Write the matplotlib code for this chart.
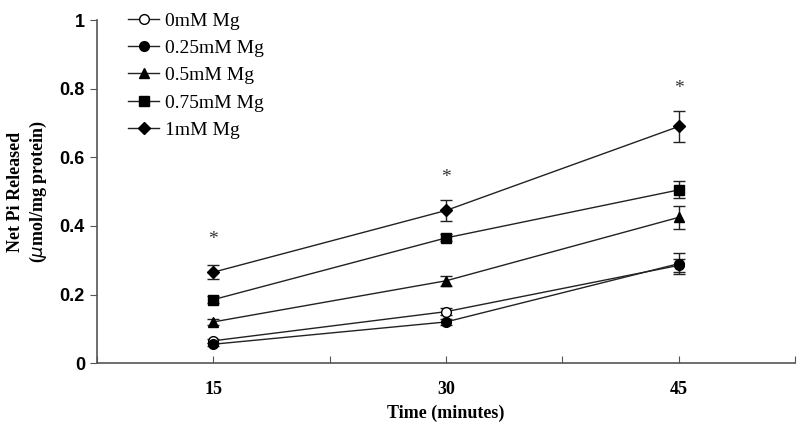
import numpy as np
import matplotlib.pyplot as plt

# time points (minutes)
times = [15, 30, 45]

labels = ["0mM Mg", "0.25mM Mg", "0.5mM Mg", "0.75mM Mg", "1mM Mg"]
mg0 = [0.065, 0.15, 0.285]
mg025 = [0.055, 0.12, 0.29]
mg05 = [0.12, 0.24, 0.425]
mg075 = [0.185, 0.365, 0.505]
mg1 = [0.265, 0.445, 0.69]

err0 = [0.005, 0.01, 0.02]
err025 = [0.005, 0.01, 0.03]
err05 = [0.01, 0.015, 0.033]
err075 = [0.01, 0.01, 0.025]
err1 = [0.02, 0.03, 0.045]

star_y = [0.36, 0.54, 0.80]

serif = "Liberation Serif"

fig = plt.figure(figsize=(8, 4.38), dpi=100)
ax = fig.add_axes([0.121, 0.171, 0.873, 0.783])

series = [
    (mg0, err0, "o", "white"),
    (mg025, err025, "o", "black"),
    (mg05, err05, "^", "black"),
    (mg075, err075, "s", "black"),
    (mg1, err1, "D", "black"),
]
handles = []
for (vals, errs, mk, fc), lab in zip(series, labels):
    ms = 7 if mk != "D" else 6
    c = ax.errorbar(times, vals, yerr=errs, fmt="-", color="#222222", lw=1,
                    marker=mk, mfc=fc, mec="black", ms=ms, capsize=4,
                    elinewidth=1, label=lab)
    handles.append(c[0])

for t, y in zip(times, star_y):
    ax.text(t, y, "*", ha="center", va="center", fontsize=14,
            family=serif, color="#333333")

ax.set_xlim(7.5, 52.5)
ax.set_ylim(0, 1)
ax.set_xticks(np.arange(7.5, 52.6, 7.5))
ax.set_xticklabels(["", "15", "", "30", "", "45", ""])
ax.set_yticks([0, 0.2, 0.4, 0.6, 0.8, 1.0])
ax.set_yticklabels(["0", "0.2", "0.4", "0.6", "0.8", "1"])
for lbl in ax.get_xticklabels():
    lbl.set_family(serif)
    lbl.set_fontweight("bold")
    lbl.set_fontsize(13)
for lbl in ax.get_yticklabels():
    lbl.set_family("Liberation Sans")
    lbl.set_fontweight("bold")
    lbl.set_fontsize(13)
ax.tick_params(axis="x", direction="in", length=5, pad=13, color="#555555")
ax.tick_params(axis="y", direction="out", length=5, color="#555555")

for s in ["top", "right"]:
    ax.spines[s].set_visible(False)
for s in ["left", "bottom"]:
    ax.spines[s].set_color("#555555")
    ax.spines[s].set_linewidth(1.2)

ax.set_xlabel("Time (minutes)", family=serif, fontweight="bold", fontsize=13, labelpad=5)
ax.set_ylabel("Net Pi Released\n($\\mu$mol/mg protein)", family=serif,
              fontweight="bold", fontsize=13, labelpad=8)

ax.legend(handles=handles, labels=labels, loc="upper left",
          bbox_to_anchor=(0.02, 1.075), frameon=False,
          prop={"family": serif, "size": 14}, handlelength=1.6,
          handletextpad=0.3, labelspacing=0.5)

fig.savefig("out.png", dpi=100)
